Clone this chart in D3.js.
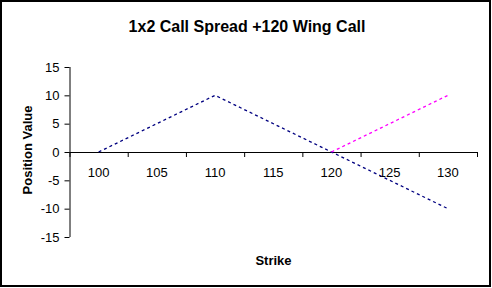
<!DOCTYPE html>
<html>
<head>
<meta charset="utf-8">
<script src="https://cdn.jsdelivr.net/npm/d3@7"></script>
<style>
    body { margin: 0; background: #fff; }
    svg { display: block; font-family: Arial, "Liberation Sans", sans-serif; }
</style>
</head>
<body>
<div id="chart-area"></div>
<script>
// Data
var strikes = [100, 110, 120, 130];
var spreadValues = [0, 10, 0, -10];       // 1x2 call spread
var wingValues = [null, null, 0, 10];     // +120 wing call
var xTickLabels = [100, 105, 110, 115, 120, 125, 130];
var yTickValues = [-15, -10, -5, 0, 5, 10, 15];

var W = 492, H = 288;
var margin = { left: 69.5, right: 15, top: 67, bottom: 51 };
var width = W - margin.left - margin.right,
    height = H - margin.top - margin.bottom;

var svg = d3.select("#chart-area")
    .append("svg")
        .attr("width", W)
        .attr("height", H);

// Outer border
svg.append("rect")
    .attr("x", 1)
    .attr("y", 1)
    .attr("width", W - 3)
    .attr("height", H - 3)
    .attr("fill", "#fff")
    .attr("stroke", "#000")
    .attr("stroke-width", 2);

var g = svg.append("g")
    .attr("transform", "translate(" + margin.left + ", " + margin.top + ")");

// Scales
var x = d3.scaleLinear()
    .domain([97.5, 132.5])
    .range([0, width]);

var y = d3.scaleLinear()
    .domain([-15, 15])
    .range([height, 0]);

// Chart Title
svg.append("text")
    .attr("x", 247)
    .attr("y", 31.5)
    .attr("font-size", "16px")
    .attr("font-weight", "bold")
    .attr("text-anchor", "middle")
    .text("1x2 Call Spread +120 Wing Call");

// Y Axis
var yAxisCall = d3.axisLeft(y)
    .tickValues(yTickValues)
    .tickSize(5)
    .tickPadding(5)
    .tickFormat(function(d){ return "" + d; });
var yAxis = g.append("g")
    .attr("class", "axisWhy")
    .call(yAxisCall);
yAxis.select(".domain").attr("d", "M0.5," + y(15) + "V" + y(-15));
yAxis.selectAll("text")
    .attr("font-size", "13px")
    .attr("font-family", "Arial, 'Liberation Sans', sans-serif");

// X Axis (tick marks between strikes, labels at strikes)
var xAxisCall = d3.axisBottom(x)
    .tickValues(xTickLabels.map(function(d){ return d - 2.5; }).concat([132.5]))
    .tickSize(5)
    .tickFormat("");
var xAxis = g.append("g")
    .attr("class", "axisEx")
    .attr("transform", "translate(0," + y(0) + ")")
    .call(xAxisCall);
xAxis.select(".domain").attr("d", "M0," + 0.5 + "H" + width);

g.append("g")
    .selectAll("text")
    .data(xTickLabels)
    .enter()
    .append("text")
        .attr("x", function(d){ return x(d); })
        .attr("y", y(0) + 24.5)
        .attr("font-size", "13px")
        .attr("text-anchor", "middle")
        .text(function(d){ return d; });

g.selectAll(".axisWhy path, .axisWhy line, .axisEx path, .axisEx line")
    .attr("stroke", "#000")
    .attr("stroke-width", 1);

// Y Label
svg.append("text")
    .attr("transform", "translate(32," + 150 + ") rotate(-90)")
    .attr("font-size", "13px")
    .attr("font-weight", "bold")
    .attr("text-anchor", "middle")
    .text("Position Value");

// X Label
svg.append("text")
    .attr("x", 273.5)
    .attr("y", 265)
    .attr("font-size", "13px")
    .attr("font-weight", "bold")
    .attr("text-anchor", "middle")
    .text("Strike");

// Lines
var line = d3.line()
    .defined(function(d){ return d.v !== null; })
    .x(function(d){ return x(d.s); })
    .y(function(d){ return y(d.v); });

var series = [
    { values: spreadValues, color: "#000080" },
    { values: wingValues, color: "#ff00ff" }
];

g.selectAll(".series")
    .data(series)
    .enter()
    .append("path")
        .attr("class", "series")
        .attr("fill", "none")
        .attr("stroke", function(d){ return d.color; })
        .attr("stroke-width", 1.3)
        .attr("stroke-dasharray", "3,3")
        .attr("d", function(d){
            return line(strikes.map(function(s, i){ return { s: s, v: d.values[i] }; }));
        });
</script>
</body>
</html>
